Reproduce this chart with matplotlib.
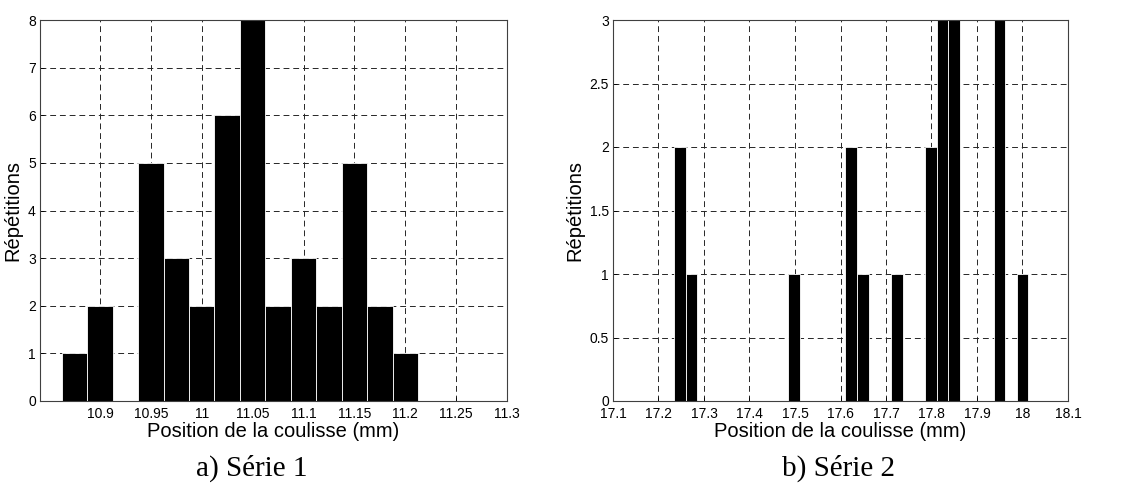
import matplotlib.pyplot as plt

# Série 1 : histogram bin centres (mm) and counts
pos1 = [10.875, 10.9, 10.925, 10.95, 10.975, 11.0, 11.025, 11.05,
        11.075, 11.1, 11.125, 11.15, 11.175, 11.2]
rep1 = [1, 2, 0, 5, 3, 2, 6, 8, 2, 3, 2, 5, 2, 1]
xticks1 = [10.9, 10.95, 11.0, 11.05, 11.1, 11.15, 11.2, 11.25, 11.3]
xlabels1 = ['10.9', '10.95', '11', '11.05', '11.1', '11.15', '11.2', '11.25', '11.3']
yticks1 = [0, 1, 2, 3, 4, 5, 6, 7, 8]

# Série 2
pos2 = [17.247, 17.272, 17.498, 17.623, 17.649, 17.724, 17.799,
        17.824, 17.849, 17.950, 18.0]
rep2 = [2, 1, 1, 2, 1, 1, 2, 3, 3, 3, 1]
xticks2 = [17.1, 17.2, 17.3, 17.4, 17.5, 17.6, 17.7, 17.8, 17.9, 18.0, 18.1]
xlabels2 = ['17.1', '17.2', '17.3', '17.4', '17.5', '17.6', '17.7', '17.8', '17.9', '18', '18.1']
yticks2 = [0, 0.5, 1, 1.5, 2, 2.5, 3]
ylabels2 = ['0', '0.5', '1', '1.5', '2', '2.5', '3']

plt.rcParams['font.family'] = ['Liberation Sans', 'DejaVu Sans']

fig = plt.figure(figsize=(11.22, 4.84), dpi=100)
ax1 = fig.add_axes([40 / 1122, 83 / 484, 467 / 1122, 381 / 484])
ax2 = fig.add_axes([613 / 1122, 83 / 484, 455 / 1122, 381 / 484])


def style(ax, xt, xl, yt, yl, xlim, ylim):
    ax.set_xlim(*xlim)
    ax.set_ylim(*ylim)
    ax.set_xticks(xt)
    ax.set_xticklabels(xl)
    ax.set_yticks(yt)
    ax.set_yticklabels(yl)
    ax.tick_params(direction='in', length=3, width=0.6, labelsize=10)
    ax.tick_params(axis='x', pad=4)
    ax.tick_params(axis='y', pad=3)
    ax.grid(True, linestyle=(0, (6, 4)), color='0.15', linewidth=0.7)
    ax.set_axisbelow(True)
    for s in ax.spines.values():
        s.set_linewidth(0.8)
        s.set_color('0.25')
    ax.set_xlabel('Position de la coulisse (mm)', fontsize=14.5, labelpad=1)
    ax.set_ylabel('Répétitions', fontsize=14.5, labelpad=4)


ax1.bar(pos1, rep1, width=0.025, color='black', edgecolor='white', linewidth=0.6)
style(ax1, xticks1, xlabels1, yticks1, [str(v) for v in yticks1],
      (10.841, 11.3), (0, 8))

ax2.bar(pos2, rep2, width=0.0251, color='black', edgecolor='white', linewidth=0.6)
style(ax2, xticks2, xlabels2, yticks2, ylabels2, (17.1, 18.1), (0, 3))

fig.text(252 / 1122, 1 - 468 / 484, 'a) Série 1', ha='center', va='center',
         fontsize=21, family='Liberation Serif')
fig.text(838 / 1122, 1 - 468 / 484, 'b) Série 2', ha='center', va='center',
         fontsize=21, family='Liberation Serif')

fig.savefig('out.png', dpi=100)
